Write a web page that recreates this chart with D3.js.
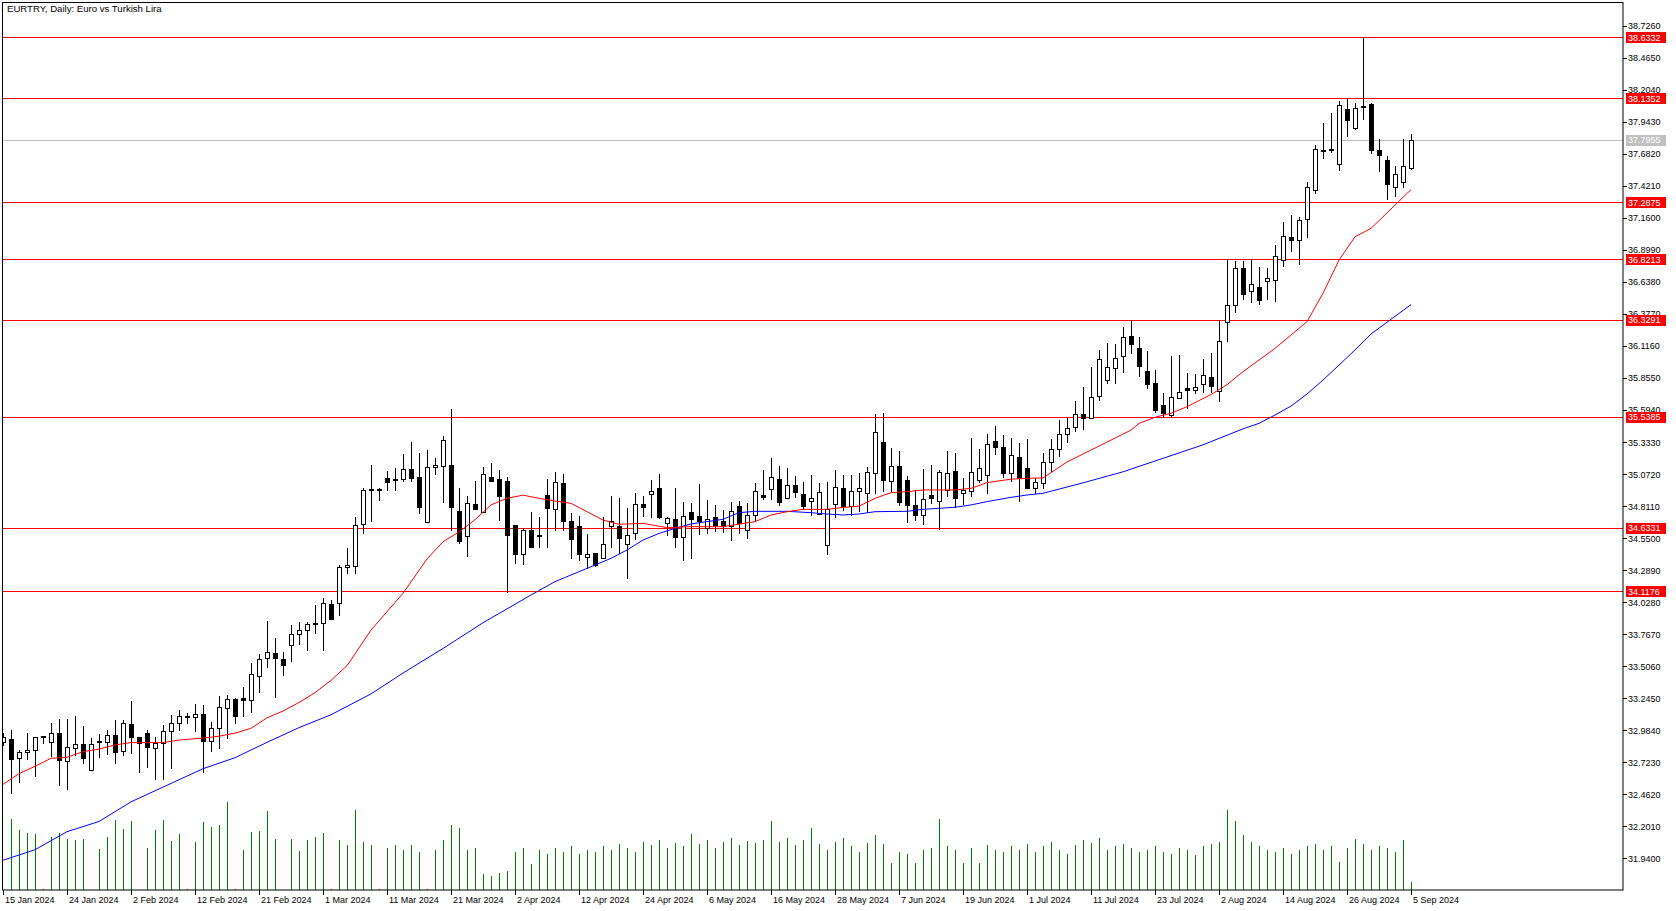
<!DOCTYPE html>
<html>
<head>
<meta charset="utf-8">
<script src="https://cdn.jsdelivr.net/npm/d3@7"></script>
<style>
  body { margin: 0; background: #fff; }
  svg { display: block; }
  text { font-family: "Liberation Sans", Arial, sans-serif; font-size: 9px; fill: #000; }
  text.title { font-size: 9.6px; }
</style>
</head>
<body>
<svg id="chart"></svg>
<script>
// EURTRY daily candles, bar 0 = 15 Jan 2024, bar 176 = 5 Sep 2024
const opens = [32.891,32.913,32.752,32.804,32.820,32.934,32.885,32.959,32.731,32.834,32.869,32.657,32.891,32.891,32.945,32.809,33.032,32.926,32.959,32.845,
  32.877,32.975,33.040,33.095,33.089,33.114,32.891,33.000,33.163,33.236,33.244,33.228,33.432,33.568,33.611,33.562,33.673,33.766,33.798,33.858,
  33.855,34.013,34.018,34.311,34.325,34.662,34.947,34.944,35.037,35.029,35.029,35.113,35.048,34.678,35.126,35.140,35.145,34.770,34.561,34.828,
  34.765,35.048,35.031,35.015,34.656,34.423,34.616,34.572,34.901,34.784,34.999,34.689,34.648,34.393,34.425,34.385,34.645,34.648,34.499,34.588,
  34.828,34.906,34.955,34.670,34.705,34.561,34.763,34.727,34.629,34.719,34.689,34.648,34.809,34.613,34.735,34.901,34.947,35.029,34.874,34.980,
  34.906,34.847,34.743,34.491,34.828,34.955,34.806,34.931,34.920,35.078,35.330,35.018,35.137,35.021,34.817,34.735,34.898,34.847,34.942,35.094,
  34.920,34.928,35.023,35.064,35.341,35.295,35.078,35.211,35.118,34.955,35.000,35.170,35.280,35.400,35.450,35.558,35.534,35.702,35.844,35.933,
  36.028,36.197,36.096,35.912,35.811,35.634,35.553,35.689,35.770,35.754,35.803,35.863,35.748,36.305,36.444,36.748,36.558,36.593,36.642,36.651,
  36.816,37.001,36.977,37.148,37.384,37.707,37.716,37.596,38.044,37.889,38.069,38.085,37.716,37.631,37.411,37.454,37.568];
const highs = [32.959,32.986,32.823,32.962,32.932,32.937,33.043,33.076,33.076,33.100,33.019,32.918,32.953,32.983,33.068,33.068,33.222,32.932,32.986,32.929,
  33.027,33.108,33.149,33.127,33.195,33.190,33.048,33.263,33.271,33.250,33.336,33.535,33.603,33.874,33.733,33.622,33.842,33.866,33.866,34.005,
  34.059,34.043,34.331,34.466,34.724,34.961,35.145,34.961,35.097,35.124,35.232,35.336,35.241,35.268,35.205,35.382,35.602,34.961,34.893,35.015,
  35.132,35.162,35.102,35.050,34.656,34.635,34.760,34.724,35.029,35.086,35.072,34.751,34.730,34.583,34.425,34.724,34.895,34.874,34.798,34.915,
  34.893,35.023,35.072,34.724,34.955,34.841,34.839,34.991,34.860,34.820,34.779,34.844,34.852,34.833,34.999,35.105,35.205,35.137,35.118,35.056,
  35.004,35.064,34.996,35.004,35.105,35.064,35.064,35.078,35.132,35.559,35.567,35.284,35.260,35.059,34.942,35.110,35.146,35.105,35.260,35.241,
  35.037,35.368,35.276,35.396,35.463,35.390,35.363,35.322,35.355,35.037,35.240,35.360,35.510,35.530,35.667,35.781,35.947,36.083,36.142,36.131,
  36.273,36.327,36.186,36.074,35.920,35.735,36.034,36.042,35.898,35.887,36.007,36.061,36.327,36.822,36.811,36.811,36.822,36.762,36.748,36.939,
  37.126,37.183,37.164,37.452,37.754,37.930,38.012,38.112,38.134,38.096,38.637,38.100,37.800,37.660,37.586,37.800,37.846];
const lows = [32.863,32.470,32.565,32.750,32.614,32.877,32.777,32.540,32.508,32.782,32.720,32.657,32.769,32.793,32.720,32.782,32.796,32.646,32.687,32.589,
  32.589,32.679,32.986,33.046,32.981,32.646,32.818,32.842,32.918,33.046,33.103,33.135,33.298,33.497,33.258,33.434,33.551,33.684,33.638,33.774,
  33.638,33.894,33.924,34.262,34.262,34.588,34.689,34.860,34.942,34.942,35.015,35.015,34.757,34.678,35.072,34.847,34.616,34.507,34.406,34.784,
  34.765,35.018,34.700,34.113,34.349,34.341,34.480,34.480,34.480,34.616,34.616,34.390,34.368,34.303,34.325,34.385,34.480,34.425,34.227,34.542,
  34.730,34.724,34.716,34.575,34.480,34.371,34.385,34.583,34.589,34.610,34.602,34.534,34.594,34.553,34.692,34.866,34.871,34.820,34.874,34.888,
  34.784,34.741,34.743,34.417,34.719,34.779,34.741,34.773,34.765,34.920,34.936,34.936,34.820,34.678,34.697,34.662,34.833,34.627,34.893,34.806,
  34.828,34.893,35.010,34.915,35.235,35.051,35.018,34.855,34.955,34.915,34.960,35.100,35.220,35.330,35.420,35.436,35.534,35.672,35.811,35.811,
  35.906,36.061,35.871,35.776,35.580,35.539,35.539,35.689,35.607,35.730,35.743,35.743,35.670,36.159,36.395,36.496,36.477,36.458,36.498,36.485,
  36.767,36.892,36.784,37.006,37.360,37.645,37.699,37.550,37.827,37.881,37.963,37.690,37.540,37.315,37.341,37.410,37.560];
const closes = [32.929,32.752,32.804,32.820,32.926,32.924,32.959,32.736,32.845,32.869,32.752,32.869,32.896,32.945,32.809,33.040,32.924,32.877,32.845,32.883,
  32.975,33.040,33.100,33.100,33.114,32.891,33.000,33.171,33.236,33.095,33.228,33.440,33.568,33.619,33.568,33.513,33.766,33.798,33.847,33.847,
  34.018,33.894,34.312,34.330,34.656,34.942,34.936,34.947,35.001,35.018,35.113,35.042,34.806,35.129,35.145,35.349,34.806,34.529,34.833,34.784,
  35.072,35.018,34.895,34.575,34.423,34.616,34.480,34.569,34.798,35.004,34.692,34.540,34.423,34.417,34.330,34.499,34.689,34.553,34.575,34.825,
  34.806,34.931,34.716,34.711,34.561,34.730,34.703,34.689,34.705,34.657,34.648,34.768,34.667,34.735,34.931,34.888,35.048,34.839,34.980,34.920,
  34.811,34.874,34.923,34.787,34.964,34.806,34.931,34.955,35.091,35.412,35.018,35.137,34.844,34.814,34.735,34.866,34.871,35.086,35.078,34.874,
  34.942,35.086,35.118,35.314,35.290,35.083,35.224,35.042,34.955,35.004,35.170,35.280,35.400,35.450,35.558,35.526,35.702,36.007,35.947,36.015,
  36.186,36.129,35.947,35.803,35.588,35.566,35.702,35.738,35.754,35.778,35.876,35.792,36.153,36.447,36.748,36.539,36.618,36.485,36.667,36.846,
  37.009,36.977,37.140,37.409,37.718,37.713,37.718,38.077,37.952,38.052,38.061,37.713,37.672,37.437,37.517,37.586,37.796];

// tick volume per bar
const volumes = [0,7100,6000,5700,5600,100,5300,5700,5100,5000,5100,0,4100,5300,7000,6100,6900,0,4200,6000,
  7000,4900,5600,100,4800,6800,6300,6500,8800,100,4000,5800,5900,7900,5100,0,5100,3900,5000,5300,
  5700,100,5000,4500,8000,4800,4500,100,4200,4500,4000,4500,3800,100,4000,5000,6500,6200,4000,4200,
  1600,1400,1700,1900,3800,4200,2600,4000,3600,4200,3800,4400,3600,4000,3800,4400,4000,4600,4200,3800,
  4800,4500,5000,4200,4700,4400,5600,4600,5000,4200,4800,5200,4500,4900,4700,5000,6900,4800,5200,4500,
  5000,6200,4600,4000,4800,5200,4400,3800,4700,5500,4600,2700,3800,3600,2700,4000,4200,7100,4400,4000,
  2700,4200,2700,4500,4000,3800,4400,4000,4600,3800,4400,4800,4000,3600,4500,5000,4700,5200,4000,4400,
  4600,4200,3800,4000,4400,3800,3600,4200,4000,3500,4400,4600,4800,8000,6900,5500,4800,4400,4000,3800,
  4200,3600,4000,4400,4600,4000,4400,2800,4200,5100,4600,4000,4400,4200,3800,5000,800];

// moving averages: [bar, value]
const maFastBars = [0,2,4,6,8,10,12,14,16,18,20,22,25,27,29,31,33,35,37,39,41,43,46,50,53,55,57,59,61,63,65,67,69,71,73,75,77,80,83,86,90,94,96,98,100,103,105,107,109,111,113,115,117,119,121,123,126,128,130,133,137,141,142,144,146,148,151,153,155,157,159,161,163,165,167,169,171,176];
const maFastVals = [32.543,32.63,32.69,32.755,32.763,32.809,32.83,32.864,32.883,32.883,32.883,32.904,32.92,32.935,32.96,33.00,33.085,33.14,33.21,33.29,33.39,33.51,33.80,34.10,34.38,34.52,34.60,34.70,34.82,34.874,34.90,34.874,34.852,34.833,34.765,34.697,34.662,34.67,34.635,34.643,34.643,34.684,34.738,34.765,34.784,34.784,34.80,34.81,34.874,34.92,34.928,34.942,34.942,34.942,34.955,35.002,35.03,35.037,35.04,35.17,35.30,35.43,35.485,35.534,35.567,35.621,35.72,35.80,35.906,36.001,36.096,36.205,36.314,36.545,36.816,37.006,37.074,37.39];
const maSlowBars = [0,4,8,12,16,20,25,29,33,37,41,46,50,55,60,66,69,71,73,76,78,80,82,84,86,90,92,94,98,101,103,105,107,109,113,115,119,121,123,126,128,130,135,140,145,150,155,157,159,161,163,165,167,169,171,176];
const maSlowVals = [31.924,32.01,32.157,32.24,32.40,32.52,32.67,32.76,32.885,33.005,33.11,33.28,33.45,33.65,33.86,34.086,34.195,34.249,34.303,34.385,34.453,34.534,34.588,34.629,34.665,34.703,34.757,34.768,34.768,34.757,34.746,34.738,34.746,34.765,34.768,34.784,34.801,34.820,34.847,34.882,34.901,34.915,35.00,35.09,35.20,35.31,35.44,35.485,35.553,35.626,35.724,35.838,35.96,36.083,36.213,36.453];

const levels = [38.6332, 38.1352, 37.2875, 36.8213, 36.3291, 35.5385, 34.6331, 34.1176];
const bidPrice = 37.7955;
const priceTicks = [31.940,32.201,32.462,32.723,32.984,33.245,33.506,33.767,34.028,34.289,34.550,34.811,35.072,35.333,35.594,35.855,36.116,36.377,36.638,36.899,37.160,37.421,37.682,37.943,38.204,38.465,38.726];
const dateLabels = ["15 Jan 2024","24 Jan 2024","2 Feb 2024","12 Feb 2024","21 Feb 2024","1 Mar 2024","11 Mar 2024","21 Mar 2024","2 Apr 2024","12 Apr 2024","24 Apr 2024","6 May 2024","16 May 2024","28 May 2024","7 Jun 2024","19 Jun 2024","1 Jul 2024","11 Jul 2024","23 Jul 2024","2 Aug 2024","14 Aug 2024","26 Aug 2024","5 Sep 2024"];
const dateBars = [0,8,16,24,32,40,48,56,64,72,80,88,96,104,112,120,128,136,144,152,160,168,176];
const title = "EURTRY, Daily:  Euro vs Turkish Lira";

const W = 1676, H = 911;
const frame = { left: 2.5, top: 2.5, right: 1623, bottom: 890 };

const svg = d3.select('#chart').attr('width', W).attr('height', H);

const x = d3.scaleLinear().domain([0, 176]).range([3, 1411]);
const y = d3.scaleLinear().domain([31.94, 38.726]).range([858.3, 25.7]);
const yVol = d3.scaleLinear().domain([0, 10000]).range([frame.bottom, frame.bottom - 100]);
const px = v => Math.round(v) + 0.5;

svg.append('clipPath').attr('id', 'plot')
  .append('rect')
  .attr('x', frame.left).attr('y', frame.top)
  .attr('width', frame.right - frame.left).attr('height', frame.bottom - frame.top);

const plot = svg.append('g').attr('clip-path', 'url(#plot)');

// horizontal levels
plot.append('line')
  .attr('x1', frame.left).attr('x2', frame.right)
  .attr('y1', px(y(bidPrice))).attr('y2', px(y(bidPrice)))
  .attr('stroke', '#c0c0c0');
plot.selectAll('line.level').data(levels).enter().append('line')
  .attr('class', 'level')
  .attr('x1', frame.left).attr('x2', frame.right)
  .attr('y1', d => px(y(d))).attr('y2', d => px(y(d)))
  .attr('stroke', '#ff0000');

// volumes
plot.selectAll('line.vol').data(volumes).enter().append('line')
  .attr('class', 'vol')
  .attr('x1', (d, i) => px(x(i))).attr('x2', (d, i) => px(x(i)))
  .attr('y1', frame.bottom).attr('y2', d => Math.round(yVol(d)))
  .attr('stroke', '#008000').attr('stroke-width', 1);

// candles
const bars = d3.range(opens.length);
const candle = plot.append('g').selectAll('g').data(bars).enter().append('g');
candle.append('line')
  .attr('x1', i => px(x(i))).attr('x2', i => px(x(i)))
  .attr('y1', i => Math.round(y(highs[i]))).attr('y2', i => Math.round(y(lows[i])) + 1)
  .attr('stroke', '#000');
candle.append('rect')
  .attr('x', i => Math.round(x(i)) - 2 + 0.5)
  .attr('width', 4)
  .attr('y', i => px(y(Math.max(opens[i], closes[i]))))
  .attr('height', i => Math.max(1, Math.round(Math.abs(y(opens[i]) - y(closes[i])))))
  .attr('fill', i => closes[i] >= opens[i] ? '#fff' : '#000')
  .attr('stroke', '#000');

// moving averages
const maLine = d3.line().x(d => x(d[0])).y(d => y(d[1]));
plot.append('path')
  .attr('d', maLine(maSlowBars.map((b, i) => [b, maSlowVals[i]])))
  .attr('fill', 'none').attr('stroke', '#0000ff').attr('stroke-width', 1);
plot.append('path')
  .attr('d', maLine(maFastBars.map((b, i) => [b, maFastVals[i]])))
  .attr('fill', 'none').attr('stroke', '#ff0000').attr('stroke-width', 1);

// frame
svg.append('rect')
  .attr('x', frame.left).attr('y', frame.top)
  .attr('width', frame.right - frame.left).attr('height', frame.bottom - frame.top)
  .attr('fill', 'none').attr('stroke', '#000');

svg.append('text').attr('class', 'title').attr('x', 7).attr('y', 12).text(title);

// price axis
const pa = svg.append('g');
pa.selectAll('line').data(priceTicks).enter().append('line')
  .attr('x1', frame.right).attr('x2', frame.right + 4)
  .attr('y1', d => px(y(d))).attr('y2', d => px(y(d)))
  .attr('stroke', '#000');
pa.selectAll('text').data(priceTicks).enter().append('text')
  .attr('x', frame.right + 5).attr('y', d => y(d) + 3.5)
  .text(d => d.toFixed(4));

// level tags
const tags = [...levels.map(v => ({ v, c: '#ff0000' })), { v: bidPrice, c: '#c0c0c0' }];
const tag = svg.append('g').selectAll('g').data(tags).enter().append('g');
tag.append('rect')
  .attr('x', frame.right + 3).attr('y', d => Math.round(y(d.v)) - 5)
  .attr('width', 40).attr('height', 11)
  .attr('fill', d => d.c);
tag.append('text')
  .attr('x', frame.right + 5).attr('y', d => y(d.v) + 3.5)
  .style('fill', '#fff')
  .text(d => d.v.toFixed(4));

// time axis
const ta = svg.append('g');
ta.selectAll('line').data(dateBars).enter().append('line')
  .attr('x1', d => px(x(d))).attr('x2', d => px(x(d)))
  .attr('y1', frame.bottom).attr('y2', frame.bottom + 5)
  .attr('stroke', '#000');
ta.selectAll('text').data(dateBars).enter().append('text')
  .attr('x', d => x(d) + 2).attr('y', 903)
  .text((d, i) => dateLabels[i]);
</script>
</body>
</html>
